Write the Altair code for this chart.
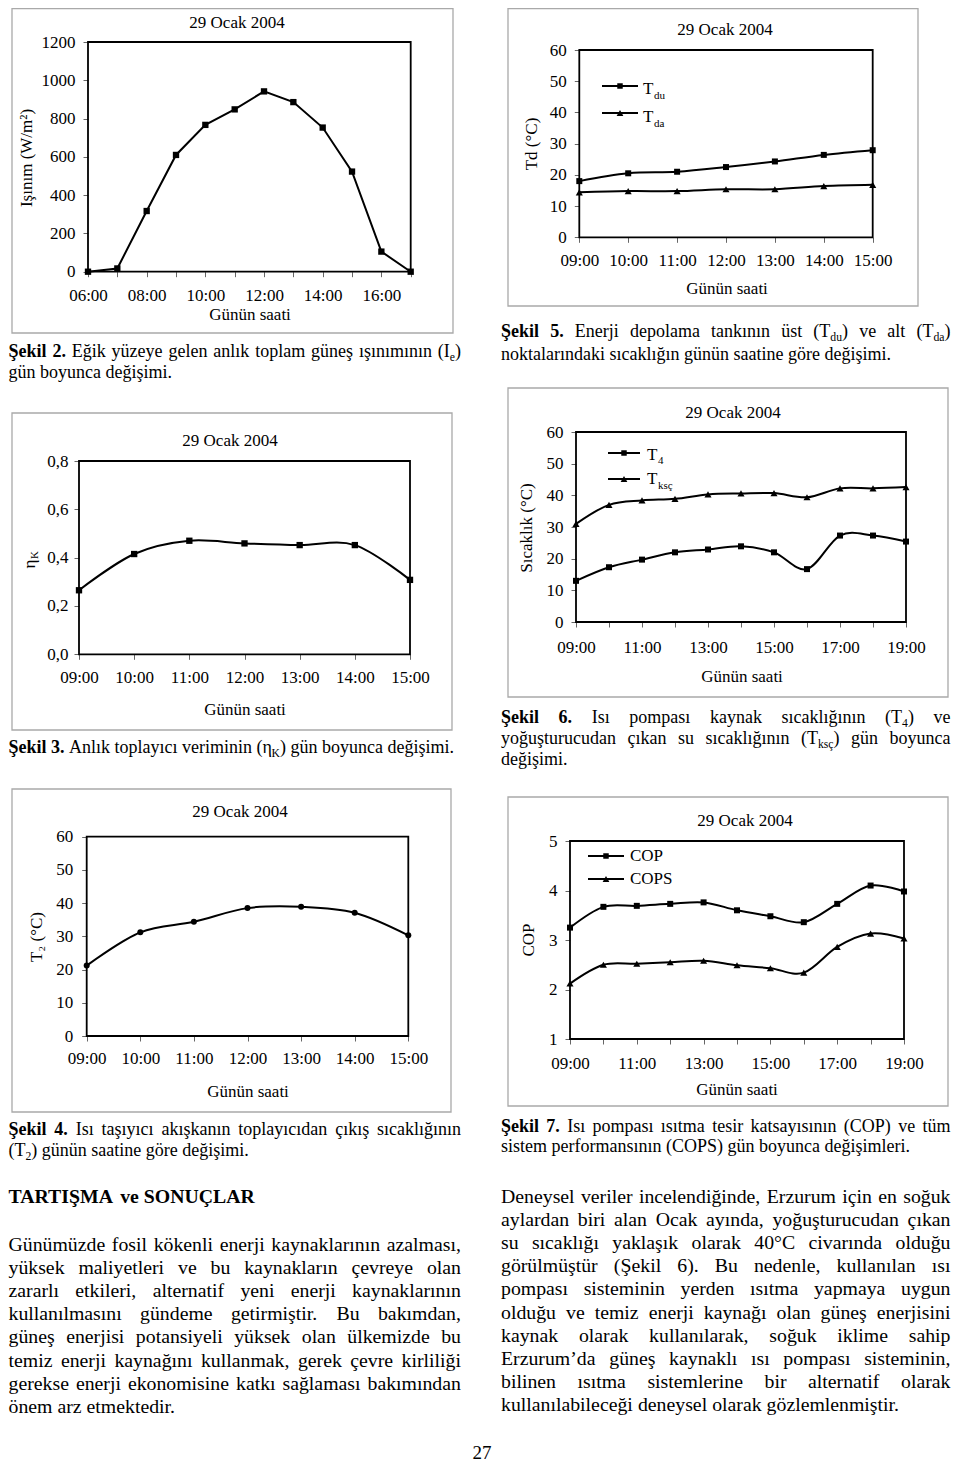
import re
import altair as alt
import pandas as pd

W, H, M = 944, 1459, 8
FONT = "Liberation Serif"

# ---------------- data ----------------
hours_irr = [6, 7, 8, 9, 10, 11, 12, 13, 14, 15, 16, 17]
irradiance = [0, 17, 317, 610, 767, 848, 942, 886, 753, 523, 105, 0]

hours_day = [9, 10, 11, 12, 13, 14, 15]
eta_k = [0.265, 0.415, 0.470, 0.459, 0.452, 0.452, 0.308]
t2 = [21.2, 31.2, 34.4, 38.5, 38.9, 37.1, 30.3]
t_du = [18.0, 20.5, 21.0, 22.5, 24.3, 26.4, 27.9]
t_da = [14.4, 14.8, 14.8, 15.4, 15.4, 16.4, 16.8]

hours_hp = [9, 10, 11, 12, 13, 14, 15, 16, 17, 18, 19]
t4 = [13.0, 17.3, 19.7, 22.0, 22.9, 23.9, 22.0, 16.7, 27.3, 27.3, 25.4]
t_ksc = [31.0, 37.0, 38.4, 38.9, 40.3, 40.6, 40.7, 39.4, 42.2, 42.2, 42.6]
cop = [3.25, 3.67, 3.69, 3.73, 3.76, 3.60, 3.48, 3.36, 3.73, 4.10, 3.98]
cops = [2.12, 2.50, 2.52, 2.55, 2.58, 2.49, 2.43, 2.34, 2.86, 3.13, 3.03]

ticks_irr = [0, 200, 400, 600, 800, 1000, 1200]
ticks_eta = [0.0, 0.2, 0.4, 0.6, 0.8]
ticks_temp = [0, 10, 20, 30, 40, 50, 60]
ticks_cop = [1, 2, 3, 4, 5]

title_date = "29 Ocak 2004"
x_title = "Günün saati"

# ---------------- glyph widths (Times metrics) ----------------
REG = {}
for chars, w in [(" ,.", 250), ("ijlt:;ı/", 278), ("²", 300), ("fr()I-’'", 333), ("sşJ", 389),
                 ("°", 400), ("acezç?", 444), ("bdghknopquvxyüöğ0123456789η", 500), ("FPSŞ", 556),
                 ("ELTZ", 611), ("BCRÇ", 667), ("ADGHKNOQUVXYwÜÖĞ", 722), ("m", 778), ("M", 889), ("W", 944)]:
    for c in chars:
        REG[c] = w
BOLD = {}
for chars, w in [(" ,.", 250), ("ilıjt", 278), ("r()", 333), ("sşI", 389), ("ce", 444),
                 ("agovyü0123456789", 500), ("SŞkbdhnpqu", 556), ("TLE", 667), ("ARNUÇCDK", 722),
                 ("O", 778), ("M", 944)]:
    for c in chars:
        BOLD[c] = w

SUB = 0.65


def gw(ch, bold):
    t = BOLD if bold else REG
    return t.get(ch, REG.get(ch, 500))


def segs(word):
    parts = re.split(r"_\{([^}]*)\}", word)
    return [(p, i % 2 == 1) for i, p in enumerate(parts) if p]


def seg_w(t, size, bold, sub):
    s = size * SUB if sub else size
    return sum(gw(c, bold) for c in t) * s / 1000.0


reg_rows, bold_rows, center_rows = [], [], []


def add_line(y, x0, x1, text, size, justify=False, bold_text=""):
    words = [(w, True) for w in bold_text.split()] + [(w, False) for w in text.split()]
    widths = [sum(seg_w(t, size, b, s) for t, s in segs(w)) for w, b in words]
    if justify and len(words) > 1:
        gap = (x1 - x0 - sum(widths)) / (len(words) - 1)
    else:
        gap = 0.25 * size
    x = x0
    for (w, b), ww in zip(words, widths):
        cx = x
        for t, s in segs(w):
            sz = size * SUB if s else size
            yy = y + (0.26 * size if s else 0)
            (bold_rows if b else reg_rows).append((cx - M, yy - M, t, sz, 0))
            cx += seg_w(t, size, b, s)
        x += ww + gap


def ctext(x, y, text, size=17, angle=0):
    center_rows.append((x - M, y - M, text, size, angle))


def ltext(x, y, text, size=17):
    reg_rows.append((x - M, y - M, text, size, 0))


# ---------------- panels ----------------
HOUR = "(datum.value < 10 ? '0' : '') + datum.value + ':00'"


def hour_expr(parity):
    if parity is None:
        return HOUR
    return f"datum.value % 2 == {parity} ? {HOUR} : ''"


def panel(box, xdom, ydom, yvals, xparity, ylabel, xpad, ypad, series):
    L, T, R, B = [v - M for v in box]
    xs = alt.Scale(domain=xdom, range=[L, R], nice=False, zero=False)
    ys = alt.Scale(domain=ydom, range=[B, T], nice=False, zero=False)
    common = dict(labelFont=FONT, labelFontSize=17, labelColor="black", tickColor="#666",
                  tickWidth=1, tickSize=5, domain=False, grid=False, labelOverlap=False)
    xaxis = alt.Axis(orient="bottom", offset=B - H, values=list(range(xdom[0], xdom[1] + 1)),
                     labelExpr=hour_expr(xparity), labelPadding=xpad, labelFlush=False, **common)
    yaxis = alt.Axis(orient="left", offset=-L, values=yvals, labelExpr=ylabel,
                     labelPadding=ypad, **common)
    fdf = pd.DataFrame({"x0": [xdom[0]], "x1": [xdom[1]], "y0": [ydom[0]], "y1": [ydom[1]]})
    frame = alt.Chart(fdf).mark_rect(fillOpacity=0, stroke="black", strokeWidth=1.8).encode(
        x=alt.X("x0:Q", scale=xs, axis=xaxis, title=None),
        x2="x1:Q",
        y=alt.Y("y0:Q", scale=ys, axis=yaxis, title=None),
        y2="y1:Q",
    )
    layers = [frame]
    for xv, yv, shape, size, interp in series:
        df = pd.DataFrame({"h": xv, "v": yv})
        base = alt.Chart(df).encode(
            x=alt.X("h:Q", scale=xs, axis=xaxis, title=None),
            y=alt.Y("v:Q", scale=ys, axis=yaxis, title=None),
        )
        layers.append(base.mark_line(color="black", strokeWidth=2, interpolate=interp))
        layers.append(base.mark_point(shape=shape, filled=True, size=size, color="black", opacity=1))
    return alt.layer(*layers)


NUM = "'' + datum.value"
COMMA = "replace(format(datum.value, '.1f'), '.', ',')"

p2 = panel((88, 42, 410.7, 271.7), [6, 17], [0, 1200], ticks_irr, 0, NUM, 10.3, 8,
           [(hours_irr, irradiance, "square", 40, "linear")])
p5 = panel((579.3, 50, 872.7, 237.3), [9, 15], [0, 60], ticks_temp, None, NUM, 10.3, 8,
           [(hours_day, t_du, "square", 36, "cardinal"), (hours_day, t_da, "triangle-up", 50, "cardinal")])
p3 = panel((79, 461, 410, 654.3), [9, 15], [0, 0.8], ticks_eta, None, COMMA, 10.3, 6,
           [(hours_day, eta_k, "square", 40, "cardinal")])
p6 = panel((576, 432, 906, 622), [9, 19], [0, 60], ticks_temp, 1, NUM, 12.3, 8,
           [(hours_hp, t4, "square", 36, "cardinal"), (hours_hp, t_ksc, "triangle-up", 50, "cardinal")])
p4 = panel((86.7, 836.7, 408.3, 1036), [9, 15], [0, 60], ticks_temp, None, NUM, 9.3, 9,
           [(hours_day, t2, "circle", 36, "cardinal")])
p7 = panel((570, 841, 904, 1039), [9, 19], [1, 5], ticks_cop, 1, NUM, 11.3, 8,
           [(hours_hp, cop, "square", 36, "cardinal"), (hours_hp, cops, "triangle-up", 50, "cardinal")])

# ---------------- figure frames (grey boxes) ----------------
frames_df = pd.DataFrame({
    "x0": [12, 508, 12, 508, 12, 508], "x1": [453, 918, 452, 948, 451, 948],
    "y0": [8.7, 8.7, 413, 388, 789, 797], "y1": [333, 306, 730, 697, 1112, 1106],
})
for c in frames_df.columns:
    frames_df[c] = frames_df[c] - M
frames = alt.Chart(frames_df).mark_rect(fillOpacity=0, stroke="#a9a9a9", strokeWidth=1.3).encode(
    x=alt.X("x0:Q", scale=None, axis=None), x2="x1:Q",
    y=alt.Y("y0:Q", scale=None, axis=None), y2="y1:Q")

# ---------------- custom legends ----------------
leg_lines = pd.DataFrame({"x": [602, 602, 608, 608, 588, 588], "x2": [638, 638, 640, 640, 624, 624],
                          "y": [86, 113, 453, 479, 856, 879]})
leg_sq = pd.DataFrame({"x": [620, 624, 606], "y": [86, 453, 856]})
leg_tri = pd.DataFrame({"x": [620, 624, 606], "y": [113, 479, 879]})
for d in (leg_lines, leg_sq, leg_tri):
    for c in d.columns:
        d[c] = d[c] - M
legend_rules = alt.Chart(leg_lines).mark_rule(color="black", strokeWidth=2).encode(
    x=alt.X("x:Q", scale=None, axis=None), x2="x2:Q", y=alt.Y("y:Q", scale=None, axis=None))
legend_sq = alt.Chart(leg_sq).mark_point(shape="square", filled=True, size=30, color="black", opacity=1).encode(
    x=alt.X("x:Q", scale=None, axis=None), y=alt.Y("y:Q", scale=None, axis=None))
legend_tri = alt.Chart(leg_tri).mark_point(shape="triangle-up", filled=True, size=45, color="black", opacity=1).encode(
    x=alt.X("x:Q", scale=None, axis=None), y=alt.Y("y:Q", scale=None, axis=None))

ltext(643, 89, "T", 17); ltext(654, 96, "du", 11)
ltext(643, 117, "T", 17); ltext(654, 124, "da", 11)
ltext(647, 455, "T", 17); ltext(658, 461, "4", 11)
ltext(647, 479, "T", 17); ltext(658, 486, "ksç", 11)
ltext(630, 856, "COP", 17); ltext(630, 879, "COPS", 17)

# ---------------- chart titles ----------------
for x, y in [(237, 23), (725, 30), (230, 441), (733, 413), (240, 812), (745, 821)]:
    ctext(x, y, title_date)
for x, y in [(250, 315), (727, 289), (245, 710), (742, 677), (248, 1092), (737, 1090)]:
    ctext(x, y, x_title)
ctext(27, 158, "Işınım (W/m²)", 17, 270)
ctext(532, 144, "Td (°C)", 17, 270)
ctext(30, 564, "η", 17, 270)
ctext(35, 555, "K", 11, 270)
ctext(527, 528, "Sıcaklık (°C)", 17, 270)
ctext(37, 937, "T₂ (°C)", 17, 270)
ctext(529, 940, "COP", 17, 270)

# ---------------- captions ----------------
CS = 18
LX0, LX1 = 8.5, 461
RX0, RX1 = 501, 950.5
add_line(352, LX0, LX1, "Eğik yüzeye gelen anlık toplam güneş ışınımının (I_{e})", CS, True, "Şekil 2.")
add_line(373, LX0, LX1, "gün boyunca değişimi.", CS)
add_line(748, LX0, LX1, "Anlık toplayıcı veriminin (η_{K}) gün boyunca değişimi.", CS, False, "Şekil 3.")
add_line(1130, LX0, LX1, "Isı taşıyıcı akışkanın toplayıcıdan çıkış sıcaklığının", CS, True, "Şekil 4.")
add_line(1151, LX0, LX1, "(T_{2}) günün saatine göre değişimi.", CS)
add_line(332, RX0, RX1, "Enerji depolama tankının üst (T_{du}) ve alt (T_{da})", CS, True, "Şekil 5.")
add_line(355, RX0, RX1, "noktalarındaki sıcaklığın günün saatine göre değişimi.", CS)
add_line(718, RX0, RX1, "Isı pompası kaynak sıcaklığının (T_{4}) ve", CS, True, "Şekil 6.")
add_line(739, RX0, RX1, "yoğuşturucudan çıkan su sıcaklığının (T_{ksç}) gün boyunca", CS, True)
add_line(760, RX0, RX1, "değişimi.", CS)
add_line(1127, RX0, RX1, "Isı pompası ısıtma tesir katsayısının (COP) ve tüm", CS, True, "Şekil 7.")
add_line(1147, RX0, RX1, "sistem performansının (COPS) gün boyunca değişimleri.", CS)

# ---------------- body text ----------------
BS = 19.8
add_line(1197, LX0, LX1, "", BS, False, "TARTIŞMA ve SONUÇLAR")
left_par = [
    "Günümüzde fosil kökenli enerji kaynaklarının azalması,",
    "yüksek maliyetleri ve bu kaynakların çevreye olan",
    "zararlı etkileri, alternatif yeni enerji kaynaklarının",
    "kullanılmasını gündeme getirmiştir. Bu bakımdan,",
    "güneş enerjisi potansiyeli yüksek olan ülkemizde bu",
    "temiz enerji kaynağını kullanmak, gerek çevre kirliliği",
    "gerekse enerji ekonomisine katkı sağlaması bakımından",
    "önem arz etmektedir.",
]
right_par = [
    "Deneysel veriler incelendiğinde, Erzurum için en soğuk",
    "aylardan biri alan Ocak ayında, yoğuşturucudan çıkan",
    "su sıcaklığı yaklaşık olarak 40°C civarında olduğu",
    "görülmüştür (Şekil 6). Bu nedenle, kullanılan ısı",
    "pompası sisteminin yerden ısıtma yapmaya uygun",
    "olduğu ve temiz enerji kaynağı olan güneş enerjisini",
    "kaynak olarak kullanılarak, soğuk iklime sahip",
    "Erzurum’da güneş kaynaklı ısı pompası sisteminin,",
    "bilinen ısıtma sistemlerine bir alternatif olarak",
    "kullanılabileceği deneysel olarak gözlemlenmiştir.",
]
for i, line in enumerate(left_par):
    add_line(1245 + 23.1 * i, LX0, LX1, line, BS, i < len(left_par) - 1)
for i, line in enumerate(right_par):
    add_line(1197 + 23.1 * i, RX0, RX1, line, BS, i < len(right_par) - 1)
ctext(482, 1453, "27", 19)


def text_layer(rows, align, weight):
    df = pd.DataFrame(rows, columns=["x", "y", "text", "size", "angle"])
    return alt.Chart(df).mark_text(font=FONT, align=align, baseline="middle", fontWeight=weight,
                                   color="black").encode(
        x=alt.X("x:Q", scale=None, axis=None), y=alt.Y("y:Q", scale=None, axis=None),
        text=alt.Text("text:N"), size=alt.Size("size:Q", scale=None, legend=None),
        angle=alt.Angle("angle:Q", scale=None, legend=None))


chart = alt.layer(
    frames, p2, p5, p3, p6, p4, p7, legend_rules, legend_sq, legend_tri,
    text_layer(reg_rows, "left", "normal"),
    text_layer(bold_rows, "left", "bold"),
    text_layer(center_rows, "center", "normal"),
).resolve_scale(x="independent", y="independent").properties(
    width=W, height=H, padding=0, autosize=alt.AutoSizeParams(type="none"),
    background="white",
).configure_view(strokeWidth=0)

chart.save("out.html", embed_options={"renderer": "svg", "actions": False})
